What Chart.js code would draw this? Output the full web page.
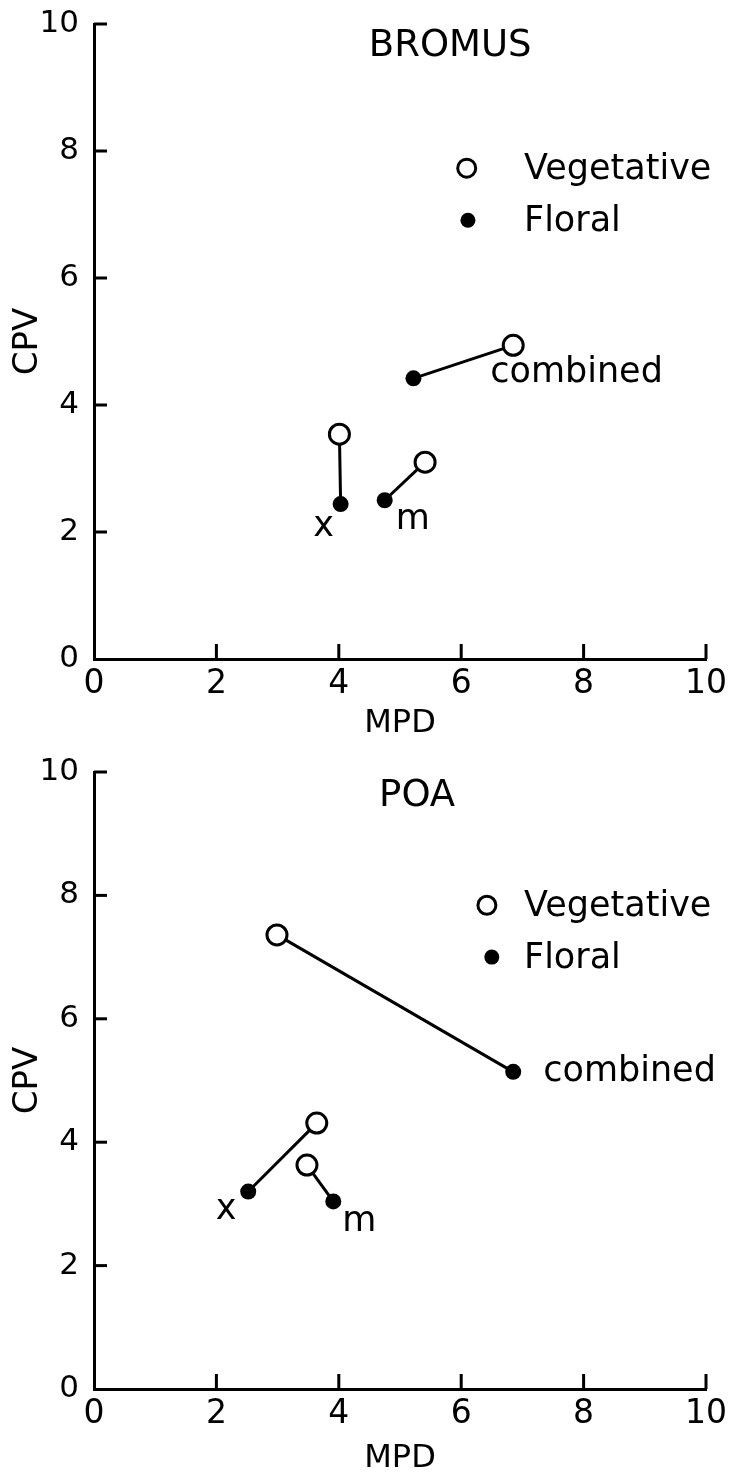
<!DOCTYPE html>
<html>
<head>
<meta charset="utf-8">
<script src="https://cdn.jsdelivr.net/npm/chart.js@4.4.1/dist/chart.umd.min.js"></script>
<style>
  html, body { margin: 0; padding: 0; background: #fff; }
  .panel { position: relative; width: 730px; }
  #top { height: 740px; }
  #bottom { height: 741px; }
</style>
</head>
<body>
<div class="panel" id="top"><canvas id="bromus"></canvas></div>
<div class="panel" id="bottom"><canvas id="poa"></canvas></div>
<script>
// pairs of points, vegetative (open) joined to floral (filled)
const pairs = ['combined', 'x', 'm'];

const bromusVegMPD = [6.85, 4.01, 5.41];
const bromusVegCPV = [4.94, 3.54, 3.10];
const bromusFloMPD = [5.22, 4.03, 4.75];
const bromusFloCPV = [4.42, 2.44, 2.50];

const poaVegMPD = [2.99, 3.64, 3.48];
const poaVegCPV = [7.36, 4.31, 3.63];
const poaFloMPD = [6.85, 2.52, 3.91];
const poaFloCPV = [5.14, 3.20, 3.04];

const axisTicks = [0, 2, 4, 6, 8, 10];
const legendLabels = ['Vegetative', 'Floral'];

const FONT = 'DejaVu Sans';

function pairDatasets(vegX, vegY, floX, floY) {
  return pairs.map((name, i) => ({
    label: name,
    data: [{ x: vegX[i], y: vegY[i] }, { x: floX[i], y: floY[i] }],
    showLine: true,
    borderColor: '#000',
    borderWidth: 3,
    pointRadius: [10, 8],
    pointBackgroundColor: ['#fff', '#000'],
    pointBorderColor: '#000',
    pointBorderWidth: [3, 0],
    pointHoverRadius: [10, 8]
  }));
}

// ticks drawn inward from the axes
const innerTicks = {
  id: 'innerTicks',
  afterDraw(chart) {
    const { ctx, chartArea: a, scales: { x, y } } = chart;
    ctx.save();
    ctx.strokeStyle = '#000';
    ctx.lineWidth = 3;
    axisTicks.slice(1).forEach(v => {
      const px = x.getPixelForValue(v);
      ctx.beginPath(); ctx.moveTo(px, a.bottom); ctx.lineTo(px, a.bottom - 15); ctx.stroke();
      const py = y.getPixelForValue(v);
      ctx.beginPath(); ctx.moveTo(a.left, py); ctx.lineTo(a.left + 13, py); ctx.stroke();
    });
    ctx.restore();
  }
};

// panel title, legend and the pair names
const decor = {
  id: 'decor',
  afterDatasetsDraw(chart, args, opts) {
    const { ctx, scales: { x, y } } = chart;
    ctx.save();
    ctx.fillStyle = '#000';
    ctx.textBaseline = 'middle';

    ctx.font = '37px "' + FONT + '"';
    ctx.textAlign = 'center';
    ctx.fillText(opts.title, x.getPixelForValue(opts.titleAt[0]), y.getPixelForValue(opts.titleAt[1]));

    ctx.font = '35px "' + FONT + '"';
    ctx.textAlign = 'left';
    opts.legendAt.forEach((p, i) => {
      const cx = x.getPixelForValue(p[0]);
      const cy = y.getPixelForValue(p[1]);
      ctx.beginPath();
      if (i === 0) {
        ctx.arc(cx, cy, 9, 0, Math.PI * 2);
        ctx.fillStyle = '#fff'; ctx.fill();
        ctx.lineWidth = 3; ctx.strokeStyle = '#000'; ctx.stroke();
      } else {
        ctx.arc(cx, cy, 7.5, 0, Math.PI * 2);
        ctx.fillStyle = '#000'; ctx.fill();
      }
      ctx.fillStyle = '#000';
      ctx.fillText(legendLabels[i], opts.legendTextX, cy + 2);
    });

    opts.names.forEach((n, i) => {
      const pt = chart.getDatasetMeta(i).data[n.ref];
      ctx.textAlign = n.align;
      ctx.fillText(pairs[i], pt.x + n.dx, pt.y + n.dy);
    });
    ctx.restore();
  }
};

function makeChart(id, datasets, padTop, xHeight, titlePad, decorOpts) {
  return new Chart(document.getElementById(id), {
    type: 'scatter',
    data: { datasets },
    options: {
      responsive: true,
      maintainAspectRatio: false,
      animation: false,
      layout: { padding: { top: padTop, right: 24, left: 0, bottom: 0 } },
      plugins: { legend: { display: false }, tooltip: { enabled: false }, decor: decorOpts },
      scales: {
        x: {
          type: 'linear', min: 0, max: 10,
          afterBuildTicks: s => { s.ticks = axisTicks.map(v => ({ value: v })); },
          afterFit: s => { s.height = xHeight; s.paddingLeft = 0; s.paddingRight = 0; },
          grid: { display: false, drawTicks: false },
          border: { display: true, color: '#000', width: 3 },
          ticks: { color: '#000', padding: 6, font: { family: FONT, size: 33 } },
          title: { display: true, text: 'MPD', color: '#000', padding: { top: 0, bottom: titlePad },
                   font: { family: FONT, size: 32, lineHeight: 1 } }
        },
        y: {
          type: 'linear', min: 0, max: 10,
          afterBuildTicks: s => { s.ticks = axisTicks.map(v => ({ value: v })); },
          afterFit: s => { s.width = 94; s.paddingTop = 0; s.paddingBottom = 0; },
          grid: { display: false, drawTicks: false },
          border: { display: true, color: '#000', width: 3 },
          ticks: { color: '#000', padding: 15, font: { family: FONT, size: 31 } },
          title: { display: true, text: 'CPV', color: '#000', padding: { top: 11, bottom: 0 },
                   font: { family: FONT, size: 34, lineHeight: 1 } }
        }
      }
    },
    plugins: [innerTicks, decor]
  });
}

makeChart('bromus', pairDatasets(bromusVegMPD, bromusVegCPV, bromusFloMPD, bromusFloCPV), 24, 81, 0, {
  title: 'BROMUS', titleAt: [5.82, 9.64],
  legendAt: [[6.09, 7.73], [6.11, 6.91]], legendTextX: 524,
  names: [
    { ref: 0, dx: -23, dy: 28, align: 'left' },
    { ref: 1, dx: -17, dy: 23, align: 'center' },
    { ref: 1, dx: 28, dy: 20, align: 'center' }
  ]
});

makeChart('poa', pairDatasets(poaVegMPD, poaVegCPV, poaFloMPD, poaFloCPV), 32, 92, 6, {
  title: 'POA', titleAt: [5.28, 9.6],
  legendAt: [[6.42, 7.84], [6.5, 7.0]], legendTextX: 524,
  names: [
    { ref: 1, dx: 30, dy: 0, align: 'left' },
    { ref: 1, dx: -22, dy: 18, align: 'center' },
    { ref: 1, dx: 26, dy: 20, align: 'center' }
  ]
});
</script>
</body>
</html>
